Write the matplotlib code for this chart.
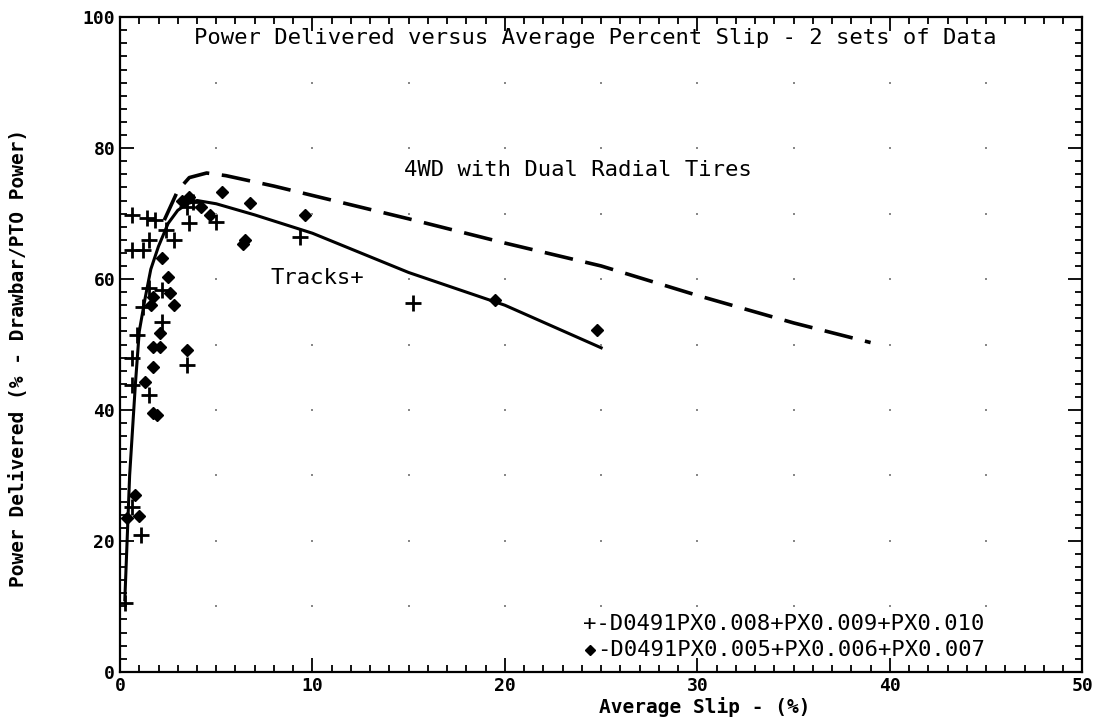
"""
Power delivered vs average percent slip, two data sets
"""

import numpy as np
import matplotlib.pyplot as plt

# crosses: D0491 PX0.008 / 0.009 / 0.010
cross_x = [0.26, 1.1, 0.6, 0.6, 0.6, 1.5, 0.9, 3.5, 1.2, 2.2, 1.5, 2.2,
           0.6, 1.2, 1.5, 2.8, 2.4, 0.6, 1.4, 1.8, 3.6, 3.5, 3.8, 5.0,
           9.35, 15.2]
cross_y = [10.5, 20.9, 25.2, 47.9, 43.8, 42.3, 51.5, 46.9, 55.7, 53.4, 58.6, 58.3,
           64.4, 64.4, 66.0, 66.0, 67.5, 69.8, 69.3, 69.0, 68.5, 71.0, 71.8, 68.7,
           66.4, 56.3]

# diamonds: D0491 PX0.005 / 0.006 / 0.007
diam_x = [0.8, 1.0, 0.36, 2.1, 2.1, 1.7, 3.5, 1.7, 1.3, 1.7, 1.9, 2.2,
          2.5, 2.6, 2.8, 1.7, 1.6, 3.6, 3.2, 5.3, 4.7, 6.75, 6.5, 6.4,
          9.6, 19.5, 24.8, 4.2]
diam_y = [27.0, 23.8, 23.5, 51.8, 49.6, 49.6, 49.2, 46.6, 44.3, 39.5, 39.2, 63.2,
          60.3, 57.9, 56.0, 57.3, 56.0, 72.5, 72.0, 73.3, 69.8, 71.6, 66.0, 65.4,
          69.8, 56.8, 52.2, 71.0]

# fitted curves
solid_x = [0.25, 0.5, 0.8, 1.0, 1.3, 1.6, 2.0, 2.5, 3.0, 3.5, 4.0, 5.0,
           7.0, 10.0, 15.0, 20.0, 25.0]
solid_y = [11.0, 30.0, 44.0, 52.0, 57.0, 61.5, 65.0, 68.5, 70.5, 71.5, 72.0, 71.5,
           69.8, 67.0, 61.0, 56.0, 49.5]

dash_x = [2.3, 3.0, 3.6, 4.5, 5.5, 8.0, 15.0, 20.0, 25.0, 30.0, 35.0, 39.0]
dash_y = [69.0, 73.5, 75.5, 76.2, 75.8, 74.2, 69.2, 65.5, 62.0, 57.5, 53.3, 50.3]

mono = 'DejaVu Sans Mono'

fig = plt.figure(figsize=(10.96, 7.17), dpi=100)
ax = fig.add_axes([0.1095, 0.063, 0.878, 0.913])

ax.plot(solid_x, solid_y, color='black', lw=2.2)
ax.plot(dash_x, dash_y, color='black', lw=2.6, dashes=(8, 3.5))
ax.plot(cross_x, cross_y, ls='none', marker='+', ms=12, mew=2, color='black')
ax.plot(diam_x, diam_y, ls='none', marker='D', ms=6.5, color='black')

# dotted grid
gx, gy = np.meshgrid(np.arange(5, 50, 5), np.arange(10, 100, 10))
ax.plot(gx.ravel(), gy.ravel(), ls='none', marker='s', ms=1.6, mew=0,
        color='#888888')

ax.set_xlim(0, 50)
ax.set_ylim(0, 100)
ax.set_xticks(np.arange(0, 51, 10))
ax.set_xticks(np.arange(0, 51, 1), minor=True)
ax.set_yticks(np.arange(0, 101, 20))
ax.set_yticks(np.arange(0, 101, 2), minor=True)
ax.tick_params(which='both', direction='in', top=True, right=True, width=1.3)
ax.tick_params(which='major', length=10, labelsize=13)
ax.tick_params(which='minor', length=5)
for lab in ax.get_xticklabels() + ax.get_yticklabels():
    lab.set_fontfamily(mono)
    lab.set_fontweight('bold')
for s in ax.spines.values():
    s.set_linewidth(1.6)

ax.set_xlabel('Average Slip - (%)', fontfamily=mono, fontweight='bold',
              fontsize=14, va='center')
ax.xaxis.set_label_coords(0.608, -0.053)
ax.set_ylabel('Power Delivered (% - Drawbar/PTO Power)', fontfamily=mono,
              fontweight='bold', fontsize=14, va='center')
ax.yaxis.set_label_coords(-0.106, 0.48)

ax.text(24.7, 96.8, 'Power Delivered versus Average Percent Slip - 2 sets of Data',
        ha='center', va='center', fontfamily=mono, fontsize=16)
ax.text(23.8, 76.6, '4WD with Dual Radial Tires', ha='center', va='center',
        fontfamily=mono, fontsize=16)
ax.text(7.8, 60.2, 'Tracks+', ha='left', va='center', fontfamily=mono, fontsize=16)
ax.text(24.05, 7.3, '+-D0491PX0.008+PX0.009+PX0.010', ha='left', va='center',
        fontfamily=mono, fontsize=16)
ax.plot([24.4], [3.4], marker='D', ms=5, color='black')
ax.text(24.8, 3.4, '-D0491PX0.005+PX0.006+PX0.007', ha='left', va='center',
        fontfamily=mono, fontsize=16)

fig.savefig('out.png', dpi=100)
